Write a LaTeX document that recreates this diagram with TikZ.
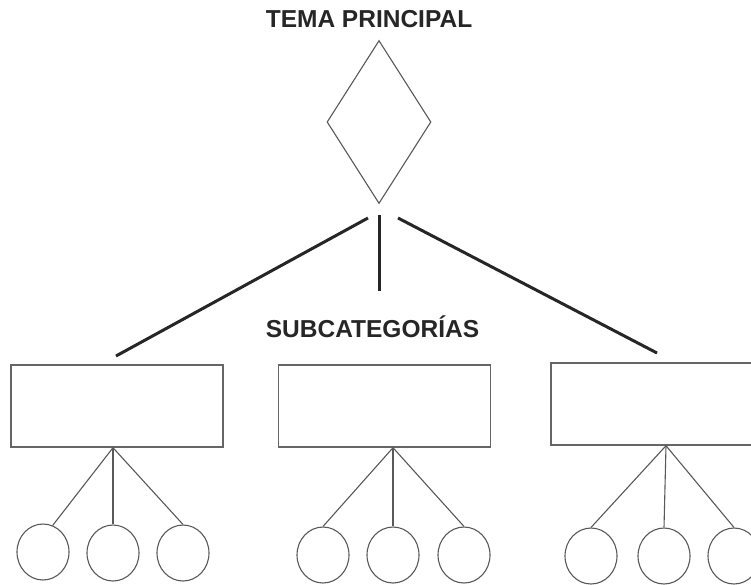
\documentclass[tikz,border=0pt]{standalone}
\usepackage{fontspec}
\setmainfont{Liberation Sans}
\usetikzlibrary{shapes.geometric}

\tikzset{
  title/.style={font=\bfseries\fontsize{24.5}{29}\selectfont, text=black!85, inner sep=0pt, anchor=base},
  subbox/.style={draw=black!60, line width=1.4pt, minimum width=212pt, minimum height=82pt, inner sep=0pt},
  leaf/.style={ellipse, draw=black!65, line width=1.1pt, minimum width=52pt, minimum height=56pt, inner sep=0pt},
  trunk/.style={draw=black!85, line width=3pt},
  twig/.style={draw=black!65, line width=1.1pt}
}

\begin{document}
\begin{tikzpicture}[x=1pt, y=-1pt]
  \clip (0,0) rectangle (751,584);
  \fill [white] (0,0) rectangle (751,584);

  \node [title] (tema) at (369,27) {TEMA PRINCIPAL};
  \node [diamond, draw=black!65, line width=1.1pt, minimum width=104pt, minimum height=163pt, inner sep=0pt] (rombo) at (379,122) {};
  \node [title] (subcat) at (372.5,337) {SUBCATEGORÍAS};

  % subcategorias
  \node [subbox] (caja1) at (117,406) {};
  \node [subbox] (caja2) at (384.5,406) {};
  \node [subbox] (caja3) at (657,404) {};

  % ramas gruesas
  \coordinate (r1) at (368,218);
  \coordinate (r2) at (379,215);
  \coordinate (r3) at (398,218);
  \coordinate (e1) at (116,356);
  \coordinate (e2) at (379,291);
  \coordinate (e3) at (657,353);
  \draw [trunk] (r1) -- (e1);
  \draw [trunk] (r2) -- (e2);
  \draw [trunk] (r3) -- (e3);

  % hojas
  \node [leaf] (h11) at (43,552) {};
  \node [leaf] (h12) at (113,553) {};
  \node [leaf] (h13) at (183,553) {};
  \node [leaf] (h21) at (323,555) {};
  \node [leaf] (h22) at (393,555) {};
  \node [leaf] (h23) at (464,555) {};
  \node [leaf] (h31) at (591,556) {};
  \node [leaf] (h32) at (664,556) {};
  \node [leaf] (h33) at (734,556) {};

  \coordinate (p1) at ([xshift=-4pt]caja1.south);
  \coordinate (p2) at ([xshift=8.5pt]caja2.south);
  \coordinate (p3) at ([xshift=9pt]caja3.south);

  \draw [twig] (p1) -- (h11.70);
  \draw [twig] (p1) -- (h12.north);
  \draw [twig] (p1) -- (h13.north);
  \draw [twig] (p2) -- (h21.north);
  \draw [twig] (p2) -- (h22.north);
  \draw [twig] (p2) -- (h23.north);
  \draw [twig] (p3) -- (h31.north);
  \draw [twig] (p3) -- (h32.north);
  \draw [twig] (p3) -- (h33.north);
\end{tikzpicture}
\end{document}
